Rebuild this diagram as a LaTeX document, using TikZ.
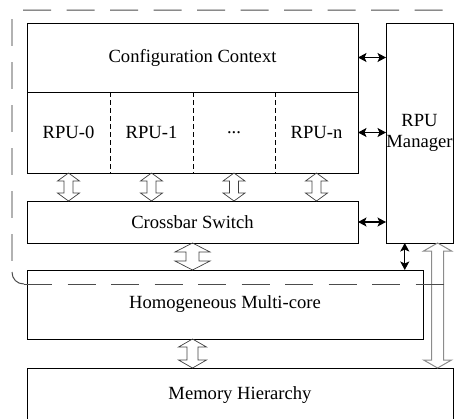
\documentclass[tikz,border=0pt]{standalone}
\usepackage{fontspec}
\setmainfont{Liberation Serif}
\usetikzlibrary{arrows.meta,calc}

\tikzset{
  blockbox/.style={draw=black, line width=1pt, rectangle, inner sep=0pt, outer sep=0pt,
    font=\fontsize{18.6}{21}\selectfont},
  cell/.style={rectangle, inner sep=0pt, outer sep=0pt, minimum height=81pt,
    font=\fontsize{18.6}{21}\selectfont},
  cellsep/.style={line width=0.9pt, dash pattern=on 5pt off 3pt},
  linkarrow/.style={line width=1.2pt,
    {Stealth[length=8.5pt,width=9pt,inset=2pt]}-{Stealth[length=8.5pt,width=9pt,inset=2pt]}},
  hollowsmall/.style={draw=black!75, line width=0.7pt, line join=miter},
  hollowbig/.style={draw=black!45, line width=1pt, line join=miter},
  frameline/.style={draw=black!70, line width=1pt, dash pattern=on 28pt off 15.5pt},
  framefaint/.style={draw=black!30, line width=1.3pt, dash pattern=on 27pt off 16pt},
}

% hollow double-headed block arrow between an upper and a lower point
% #1 style, #2 upper end, #3 lower end, #4 head half-width, #5 shaft half-width, #6 head length
\newcommand\hollowarrow[6]{%
  \draw[#1] let \p1=(#2), \p2=(#3) in
    (\x1,\y1) -- (\x1+#4,\y1-#6) -- (\x1+#5,\y1-#6) -- (\x2+#5,\y2+#6) -- (\x2+#4,\y2+#6)
    -- (\x2,\y2) -- (\x2-#4,\y2+#6) -- (\x2-#5,\y2+#6) -- (\x1-#5,\y1-#6) -- (\x1-#4,\y1-#6) -- cycle;}

\begin{document}
\begin{tikzpicture}[x=1pt,y=-1pt]
\useasboundingbox (0,0) rectangle (457,418);
\clip (0,0) rectangle (457,418);

% reconfigurable part
\node[blockbox, minimum width=331pt, minimum height=69pt] (ctx) at (192.5,57.5) {Configuration Context};
\node[blockbox, minimum width=331pt, minimum height=81pt] (row) at (192.5,132.5) {};
\node[cell, minimum width=83pt] (rpu0) at (68.5,132.5) {RPU-0};
\node[cell, minimum width=83pt] (rpu1) at (151.5,132.5) {RPU-1};
\node[cell, minimum width=82pt] (rpux) at (234,132.5) {...};
\node[cell, minimum width=83pt] (rpun) at (316.5,132.5) {RPU-n};
\draw[cellsep] (rpu0.north east) -- (rpu0.south east);
\draw[cellsep] (rpu1.north east) -- (rpu1.south east);
\draw[cellsep] (rpux.north east) -- (rpux.south east);

\node[blockbox, minimum width=67pt, minimum height=220pt, align=center] (mgr) at (419.5,133) {RPU\\Manager};
\node[blockbox, minimum width=331pt, minimum height=42pt] (cross) at (192.5,222) {Crossbar Switch};

% host side
\node[blockbox, minimum width=396pt, minimum height=69pt] (homo) at (225,304.5) {Homogeneous Multi-core};
\node[blockbox, minimum width=426pt, minimum height=54pt] (mem) at (240,395) {Memory Hierarchy};

\coordinate (mgrA) at ($(mgr.south west)!0.28!(mgr.south east)$);
\coordinate (mgrB) at ($(mgr.south west)!0.77!(mgr.south east)$);

% control links of the manager
\draw[linkarrow] (ctx.east) -- (ctx.east -| mgr.west);
\draw[linkarrow] (row.east) -- (row.east -| mgr.west);
\draw[linkarrow] (cross.east) -- (cross.east -| mgr.west);
\draw[linkarrow] (mgrA) -- (mgrA |- homo.north);

% data paths
\hollowarrow{hollowsmall}{rpu0.south}{cross.north -| rpu0.south}{11pt}{4.5pt}{8pt}
\hollowarrow{hollowsmall}{rpu1.south}{cross.north -| rpu1.south}{11pt}{4.5pt}{8pt}
\hollowarrow{hollowsmall}{rpux.south}{cross.north -| rpux.south}{11pt}{4.5pt}{8pt}
\hollowarrow{hollowsmall}{rpun.south}{cross.north -| rpun.south}{11pt}{4.5pt}{8pt}
\hollowarrow{hollowsmall}{cross.south}{homo.north -| cross.south}{17.5pt}{6.5pt}{9pt}
\hollowarrow{hollowsmall}{homo.south -| cross.south}{mem.north -| cross.south}{14pt}{5.5pt}{8pt}
\hollowarrow{hollowbig}{mgrB}{mgrB |- mem.north}{14pt}{6pt}{8pt}

% boundary of the reconfigurable fabric
\draw[frameline, rounded corners=12pt] (23,10) -- (466,10) -- (466,60);
\draw[framefaint] (12,19) -- (12,266);
\draw[draw=black!70, line width=1pt] (12,272) .. controls (12,279) and (17,284) .. (24,284);
\draw[frameline] (24,284) -- (466,284);
\end{tikzpicture}
\end{document}
